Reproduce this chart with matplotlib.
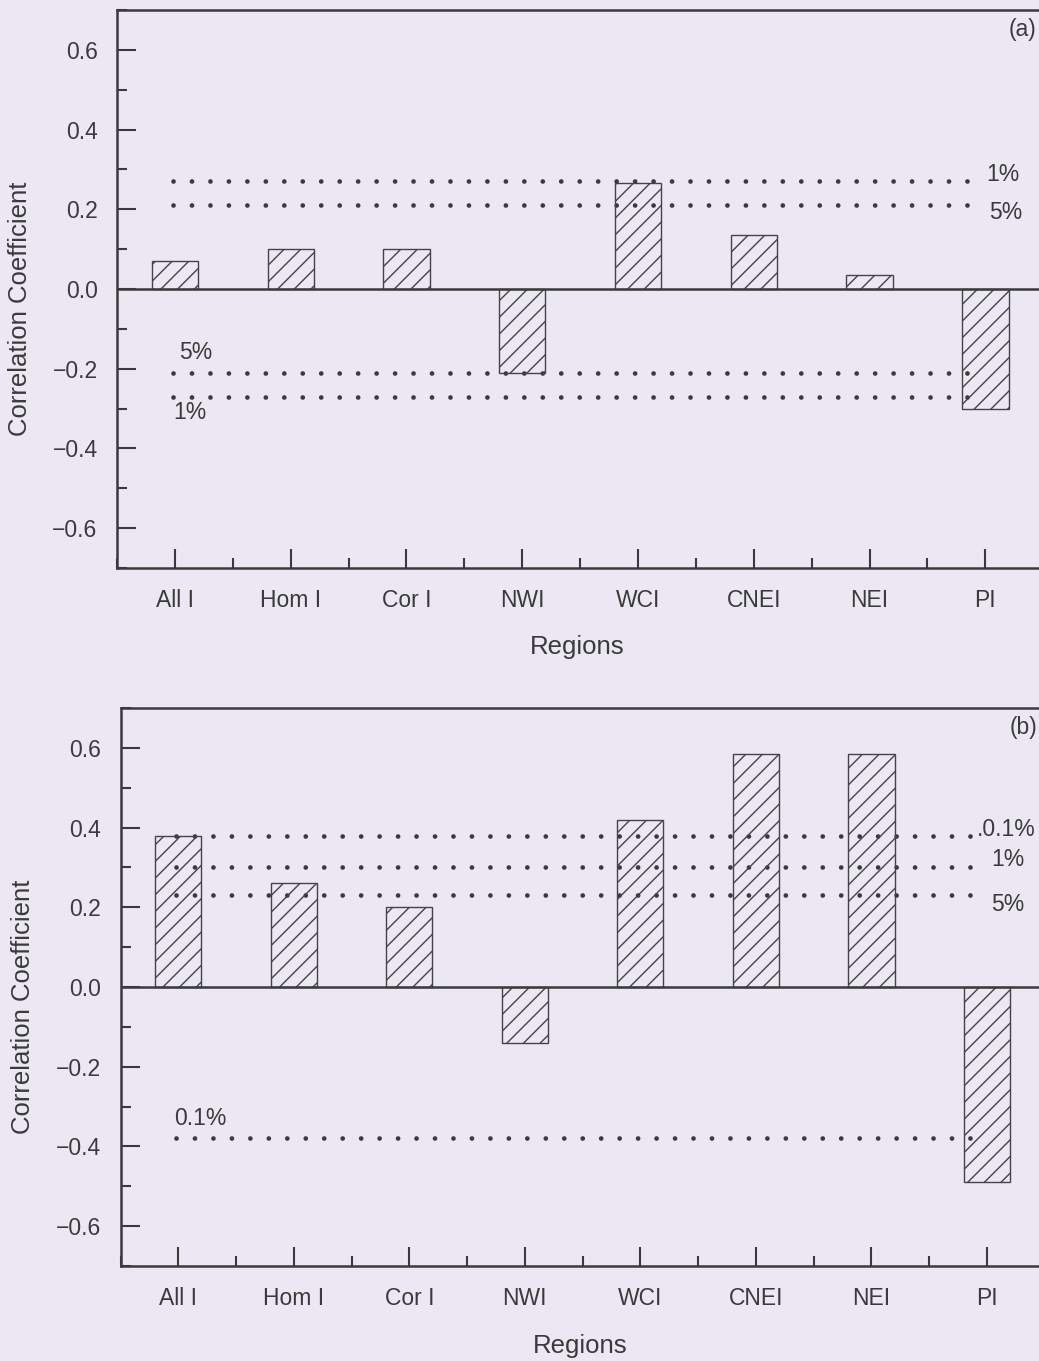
import numpy as np
import matplotlib
matplotlib.use('Agg')
from matplotlib import pyplot as plt
from matplotlib.ticker import MultipleLocator

plt.rcParams['font.family'] = ['Liberation Sans', 'DejaVu Sans']
plt.rcParams['hatch.color'] = '#444444'
plt.rcParams['hatch.linewidth'] = 1.0

#
regions = ['All I', 'Hom I', 'Cor I', 'NWI', 'WCI', 'CNEI', 'NEI', 'PI']
corr_a = [0.07, 0.10, 0.10, -0.21, 0.265, 0.135, 0.035, -0.30]
corr_b = [0.38, 0.26, 0.20, -0.14, 0.42, 0.585, 0.585, -0.49]

# significance levels: (value, label)
sig_a = [(0.27, '1%'), (0.21, '5%'), (-0.21, '5%'), (-0.27, '1%')]
sig_b = [(0.38, '0.1%'), (0.30, '1%'), (0.23, '5%'), (-0.38, '0.1%')]

bg = '#ECE8F3'
ink = '#3a3a3a'
fs = 16.5

fig = plt.figure(figsize=(10.39, 13.61), dpi=100, facecolor=bg)

def panel(rect, values, letter):
    ax = fig.add_axes(rect)
    ax.set_facecolor(bg)
    x = np.arange(len(regions))
    ax.bar(x, values, width=0.4, fill=False, hatch='//', edgecolor='#444444', linewidth=1.0, zorder=3)
    ax.axhline(0, color=ink, lw=1.8, zorder=4)
    ax.set_xlim(-0.5, 7.5)
    ax.set_ylim(-0.7, 0.7)
    ax.set_xticks(x)
    ax.set_xticklabels(regions)
    ax.xaxis.set_minor_locator(MultipleLocator(0.5))
    ax.set_yticks([-0.6, -0.4, -0.2, 0.0, 0.2, 0.4, 0.6])
    ax.yaxis.set_minor_locator(MultipleLocator(0.1))
    ax.tick_params(which='both', direction='in', colors=ink, labelcolor=ink, labelsize=fs, width=1.5)
    ax.tick_params(which='major', length=14)
    ax.tick_params(which='minor', length=7)
    ax.tick_params(axis='x', which='both', pad=15)
    ax.tick_params(axis='y', which='both', pad=14)
    for s in ax.spines.values():
        s.set_linewidth(1.8)
        s.set_color(ink)
    ax.set_ylabel('Correlation Coefficient', fontsize=18.5, color=ink)
    ax.set_xlabel('Regions', fontsize=18.5, color=ink)
    ax.yaxis.set_label_coords(-0.092, 0.464)
    ax.xaxis.set_label_coords(0.497, -0.121)
    ax.text(7.44, 0.65, f'({letter})', fontsize=fs, color=ink, ha='right', va='center')
    return ax

ax_a = panel([0.1126, 0.5827, 0.8915, 0.41], corr_a, 'a')
ax_b = panel([0.1160, 0.0698, 0.8895, 0.41], corr_b, 'b')

dot_kw = dict(color=ink, lw=3.4, ls=(0, (0.01, 3.9)), dash_capstyle='round', zorder=2)

# panel (a) significance lines
for v, lab in sig_a:
    ax_a.plot([-0.02, 6.92], [v, v], **dot_kw)
ax_a.text(7.15, 0.286, sig_a[0][1], fontsize=fs, color=ink, ha='center', va='center')
ax_a.text(7.18, 0.193, sig_a[1][1], fontsize=fs, color=ink, ha='center', va='center')
ax_a.text(0.18, -0.16, sig_a[2][1], fontsize=fs, color=ink, ha='center', va='center')
ax_a.text(0.13, -0.31, sig_a[3][1], fontsize=fs, color=ink, ha='center', va='center')

# panel (b) significance lines
for v, lab in sig_b:
    ax_b.plot([-0.02, 6.92], [v, v], **dot_kw)
ax_b.text(7.17, 0.394, '.' + sig_b[0][1], fontsize=fs, color=ink, ha='center', va='center')
ax_b.text(7.18, 0.319, sig_b[1][1], fontsize=fs, color=ink, ha='center', va='center')
ax_b.text(7.18, 0.206, sig_b[2][1], fontsize=fs, color=ink, ha='center', va='center')
ax_b.text(0.19, -0.33, sig_b[3][1], fontsize=fs, color=ink, ha='center', va='center')

fig.savefig('out.png', dpi=100, facecolor=bg)
